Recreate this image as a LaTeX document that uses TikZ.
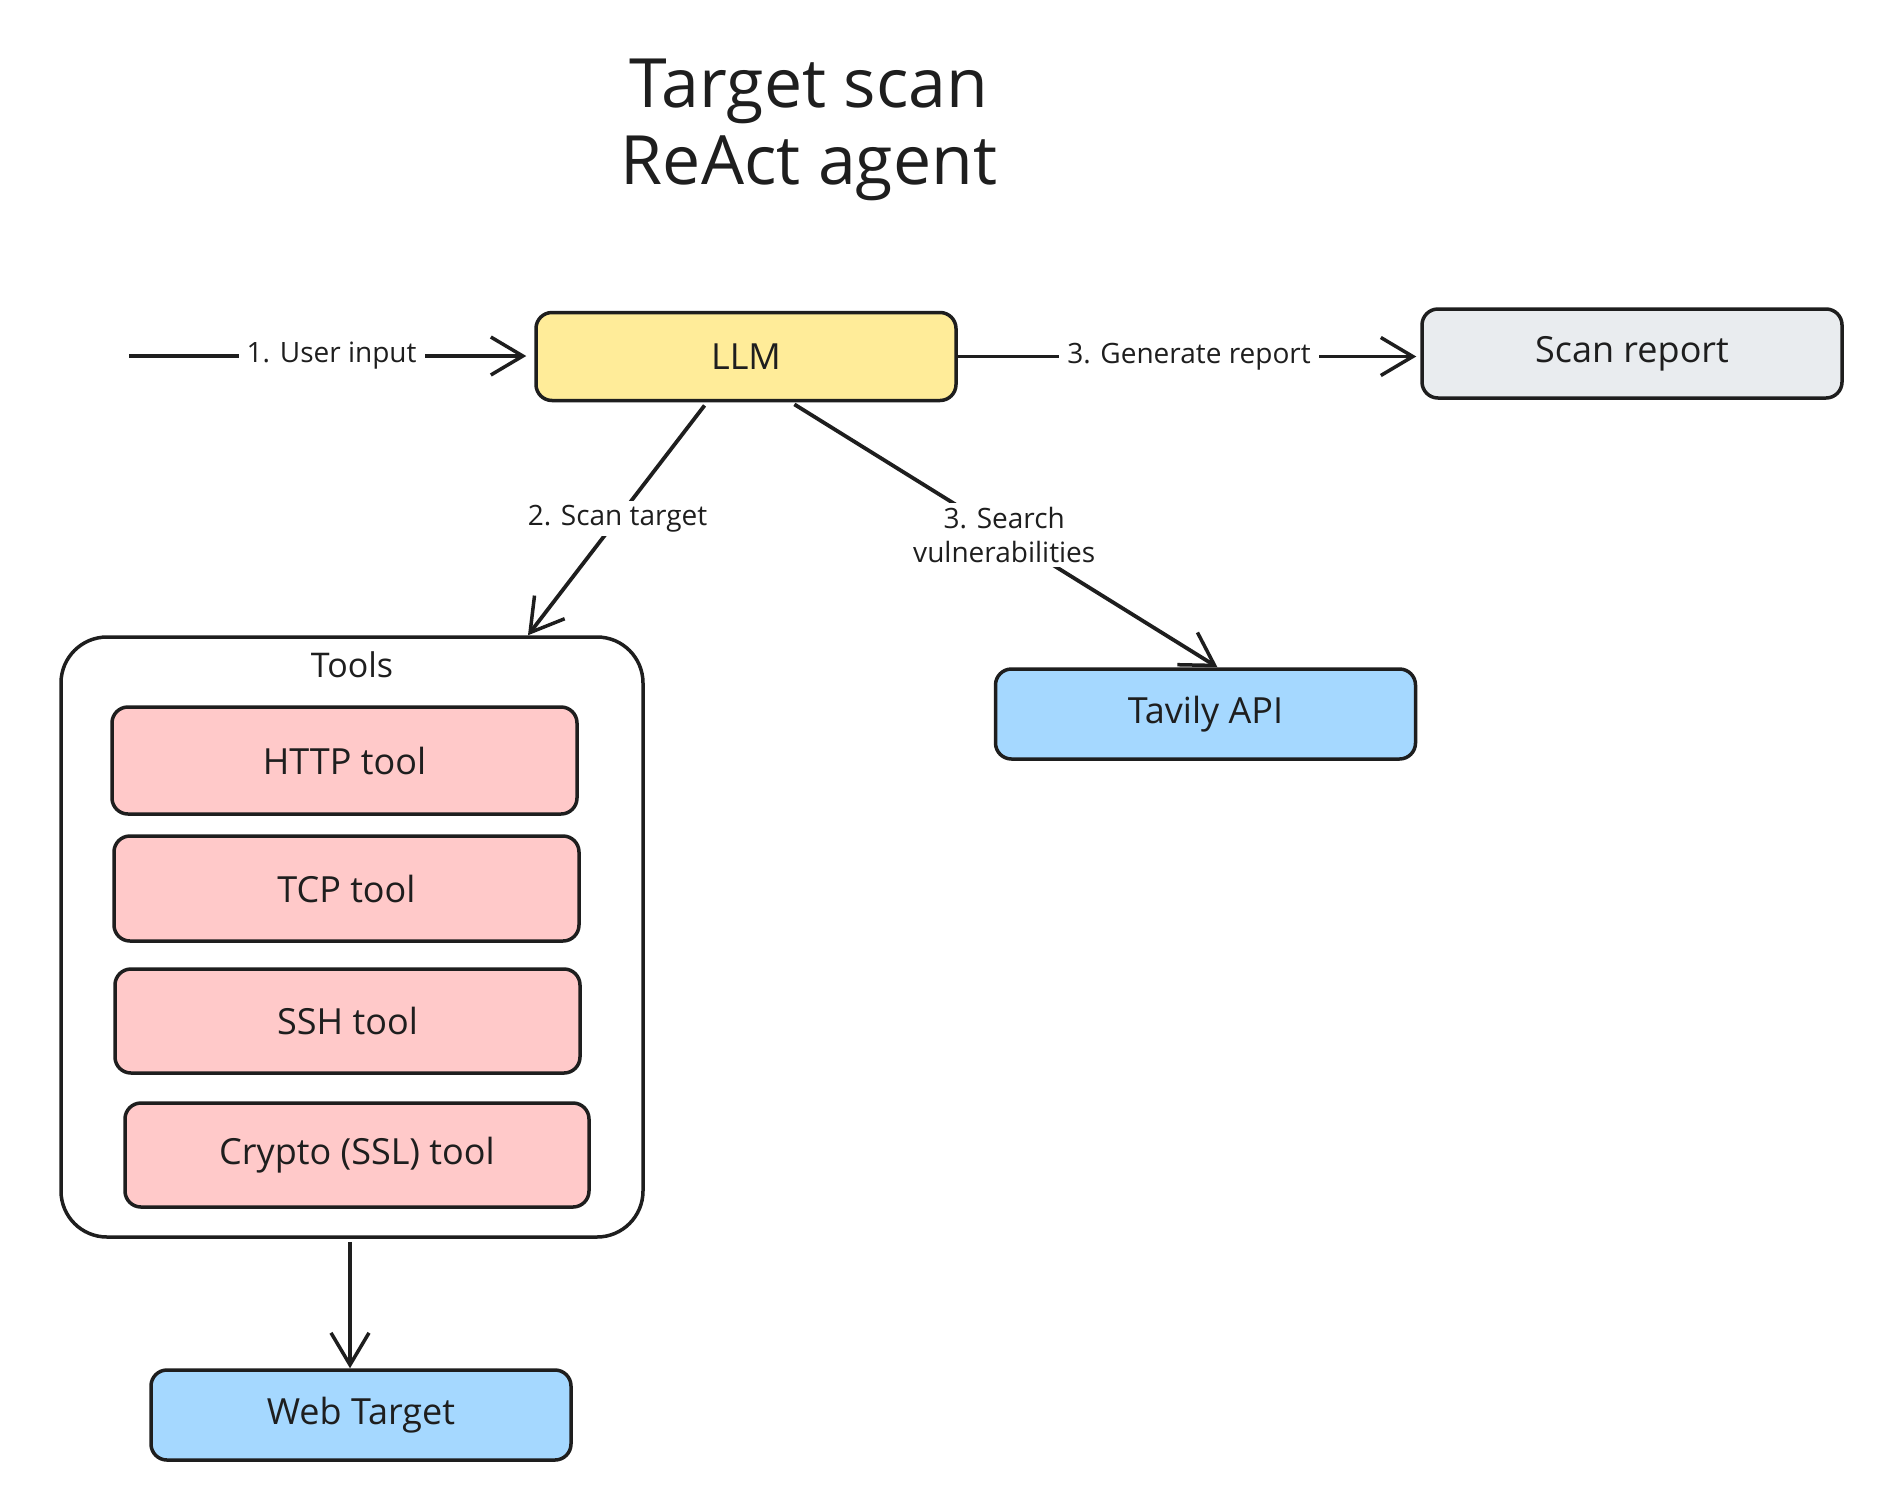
\documentclass[tikz,border=0pt]{standalone}
\usepackage{fontspec}
\setmainfont{Open Sans}
\usetikzlibrary{arrows.meta,calc}
\definecolor{ink}{HTML}{1E1E1E}
\definecolor{llmfill}{HTML}{FFEC99}
\definecolor{grayfill}{HTML}{E9ECEF}
\definecolor{bluefill}{HTML}{A5D8FF}
\definecolor{redfill}{HTML}{FFC9C9}
\tikzset{
  box/.style={rectangle, rounded corners=16pt, draw=ink, line width=3.5pt,
    minimum width=420pt, minimum height=88pt, inner sep=0pt,
    font=\fontsize{36}{42}\selectfont, text=ink},
  toolbox/.style={box, fill=redfill, minimum width=465pt, minimum height=105pt},
  container/.style={rectangle, rounded corners=46pt, draw=ink, line width=3.5pt,
    fill=white, minimum width=582pt, minimum height=600pt, inner sep=0pt},
  conn/.style={draw=ink, line width=3.8pt,
    -{Straight Barb[length=32pt,width=38pt,line width=3.5pt]}},
  elabel/.style={fill=white, inner xsep=8pt, inner ysep=4pt, text=ink,
    font=\fontsize{28}{34}\selectfont, align=center},
}
\begin{document}
\begin{tikzpicture}[x=1pt,y=-1pt]
\fill[white] (0,0) rectangle (1880,1500);
\useasboundingbox (0,0) rectangle (1880,1500);

\node[text=ink, font=\fontsize{68}{77}\selectfont, align=center] (title) at (809,130)
  {Target scan\\ReAct agent};

\node[box, fill=llmfill] (llm) at (746,356.5) {LLM};
\node[box, fill=grayfill, minimum height=89pt] (report) at (1632,353.5) {Scan report};
\node[box, fill=bluefill, minimum height=90pt] (tavily) at (1205.5,714) {Tavily API};

\node[container] (tools) at (352,937) {};
\node[text=ink, font=\fontsize{34}{40}\selectfont] (toolslabel) at (352,665) {Tools};
\node[toolbox, minimum height=107pt] (http) at (344.5,760.5) {HTTP tool};
\node[toolbox] (tcp) at (346.5,888.5) {TCP tool};
\node[toolbox, minimum height=104pt] (ssh) at (347.5,1021) {SSH tool};
\node[toolbox, minimum width=464pt, minimum height=104pt] (crypto) at (357,1155) {Crypto (SSL) tool};

\node[box, fill=bluefill, minimum height=90pt] (web) at (361,1415) {Web Target};

\coordinate (input) at (129,356);

\draw[conn, shorten >=8pt] (input) -- node[elabel] {1. User input} (input -| llm.west);
\draw[conn, shorten >=4pt] (llm.east) -- node[elabel] {3. Generate report} (llm.east -| report.west);
\draw[conn, shorten <=4pt] ([xshift=-39pt]llm.south) -- node[elabel] {2. Scan target} ([xshift=176pt]tools.north);
\draw[conn, shorten <=4pt] ([xshift=45pt]llm.south) -- node[elabel] {3. Search\\vulnerabilities} ([xshift=12pt]tavily.north);
\draw[conn, shorten <=3pt] ([xshift=-2pt]tools.south) -- ([xshift=-2pt]tools.south |- web.north);
\end{tikzpicture}
\end{document}
